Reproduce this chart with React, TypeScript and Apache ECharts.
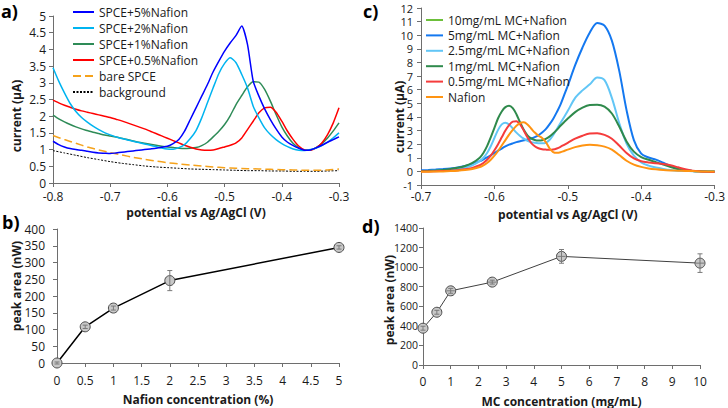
import React, { useEffect, useRef } from 'react';
import * as echarts from 'echarts';

// ---------- Panel a: Nafion loading on SPCE ----------
const potentialA = [
  -0.8, -0.79, -0.78, -0.77, -0.76, -0.75, -0.74, -0.73, -0.72, -0.71,
  -0.7, -0.69, -0.68, -0.67, -0.66, -0.65, -0.64, -0.63, -0.62, -0.61,
  -0.6, -0.59, -0.58, -0.57, -0.56, -0.55, -0.54, -0.53, -0.52, -0.51,
  -0.5, -0.49, -0.48, -0.47, -0.46, -0.45, -0.44, -0.43, -0.42, -0.41,
  -0.4, -0.39, -0.38, -0.37, -0.36, -0.35, -0.34, -0.33, -0.32, -0.31, -0.3,
];
const spce5Nafion = [
  1.25, 1.15, 1.08, 1.03, 1.0, 0.98, 0.95, 0.92, 0.9, 0.89,
  0.88, 0.9, 0.92, 0.94, 0.96, 0.98, 1.0, 1.02, 1.04, 1.07,
  1.1, 1.18, 1.3, 1.55, 1.9, 2.25, 2.6, 2.95, 3.33, 3.65,
  3.95, 4.2, 4.42, 4.7, 4.15, 3.05, 2.6, 2.22, 1.9, 1.62,
  1.38, 1.22, 1.12, 1.04, 0.98, 0.99, 1.05, 1.13, 1.22, 1.3, 1.38,
];
const spce2Nafion = [
  3.45, 3.05, 2.7, 2.38, 2.14, 1.96, 1.82, 1.7, 1.6, 1.51,
  1.44, 1.38, 1.33, 1.29, 1.25, 1.21, 1.17, 1.13, 1.09, 1.05,
  1.02, 1.01, 1.06, 1.15, 1.33, 1.57, 1.95, 2.4, 2.85, 3.28,
  3.58, 3.75, 3.6, 3.25, 2.85, 2.3, 1.95, 1.65, 1.45, 1.3,
  1.18, 1.09, 1.02, 0.98, 0.97, 1.0, 1.05, 1.12, 1.22, 1.35, 1.5,
];
const spce1Nafion = [
  2.03, 1.92, 1.83, 1.75, 1.68, 1.62, 1.57, 1.52, 1.48, 1.44,
  1.41, 1.38, 1.34, 1.3, 1.26, 1.22, 1.19, 1.16, 1.13, 1.1,
  1.08, 1.06, 1.04, 1.03, 1.04, 1.06, 1.12, 1.22, 1.38, 1.55,
  1.75, 2.02, 2.35, 2.62, 2.88, 3.03, 3.02, 2.8, 2.45, 2.05,
  1.68, 1.4, 1.18, 1.05, 0.98, 0.99, 1.06, 1.18, 1.35, 1.56, 1.8,
];
const spce05Nafion = [
  2.48, 2.4, 2.33, 2.27, 2.21, 2.16, 2.12, 2.08, 2.04, 2.0,
  1.96, 1.91, 1.86, 1.8, 1.74, 1.68, 1.62, 1.55, 1.48, 1.41,
  1.34, 1.27, 1.2, 1.13, 1.07, 1.02, 0.99, 0.98, 0.99, 1.03,
  1.08, 1.13, 1.2, 1.35, 1.6, 1.85, 2.1, 2.25, 2.27, 2.12,
  1.85, 1.55, 1.3, 1.1, 0.99, 0.98, 1.05, 1.2, 1.45, 1.8, 2.25,
];
const potentialA2 = [
  -0.8, -0.78, -0.76, -0.74, -0.72, -0.7, -0.68, -0.66, -0.64, -0.62,
  -0.6, -0.58, -0.56, -0.54, -0.52, -0.5, -0.48, -0.46, -0.44, -0.42,
  -0.4, -0.38, -0.36, -0.34, -0.32, -0.3,
];
const bareSpce = [
  1.42, 1.3, 1.19, 1.08, 0.99, 0.91, 0.84, 0.77, 0.71, 0.66,
  0.61, 0.57, 0.54, 0.51, 0.48, 0.46, 0.44, 0.43, 0.42, 0.41,
  0.4, 0.39, 0.38, 0.38, 0.39, 0.42,
];
const backgroundA = [
  0.97, 0.9, 0.83, 0.76, 0.7, 0.64, 0.59, 0.55, 0.51, 0.48,
  0.46, 0.44, 0.42, 0.41, 0.4, 0.39, 0.38, 0.37, 0.37, 0.36,
  0.36, 0.35, 0.35, 0.35, 0.36, 0.37,
];

// ---------- Panel c: MC loading ----------
const potentialC = [
  -0.7, -0.69, -0.68, -0.67, -0.66, -0.65, -0.64, -0.63, -0.62,
  -0.615, -0.61, -0.605, -0.6, -0.595, -0.59, -0.585, -0.58, -0.575, -0.57,
  -0.565, -0.56, -0.555, -0.55, -0.545, -0.54, -0.535, -0.53, -0.525, -0.52,
  -0.515, -0.51, -0.505, -0.5,
  -0.49, -0.48, -0.47, -0.46, -0.45, -0.44, -0.43, -0.42, -0.41, -0.4,
  -0.39, -0.38, -0.37, -0.36, -0.35, -0.34, -0.33, -0.32, -0.31, -0.3,
];
const mc10: number[] = [];
const mc5 = [
  0.08, 0.1, 0.13, 0.17, 0.22, 0.29, 0.4, 0.55, 0.75,
  0.88, 1.02, 1.18, 1.35, 1.52, 1.68, 1.83, 1.96, 2.06, 2.15,
  2.22, 2.28, 2.35, 2.42, 2.52, 2.65, 2.85, 3.1, 3.45, 3.85,
  4.35, 4.9, 5.6, 6.3,
  7.8, 9.1, 10.2, 10.9, 10.7, 9.6, 7.4, 4.5, 2.3, 1.3,
  1.02, 0.86, 0.64, 0.4, 0.18, 0.08, 0.03, 0.01, 0.0, 0.0,
];
const mc25 = [
  0.02, 0.03, 0.05, 0.08, 0.12, 0.18, 0.28, 0.45, 0.75,
  1.0, 1.35, 1.85, 2.45, 3.05, 3.45, 3.58, 3.45, 3.15, 2.85,
  2.6, 2.4, 2.25, 2.15, 2.1, 2.07, 2.06, 2.1, 2.3, 2.65,
  3.1, 3.55, 4.0, 4.45,
  5.4, 5.95, 6.4, 6.9, 6.7, 5.4, 3.55, 2.05, 1.15, 0.65,
  0.42, 0.28, 0.18, 0.1, 0.05, 0.03, 0.01, 0.0, 0.0, 0.0,
];
const mc1 = [
  0.02, 0.04, 0.07, 0.11, 0.17, 0.26, 0.4, 0.62, 1.0,
  1.35, 1.85, 2.5, 3.2, 3.9, 4.4, 4.72, 4.82, 4.65, 4.2,
  3.6, 3.05, 2.65, 2.42, 2.3, 2.26, 2.28, 2.38, 2.55, 2.78,
  3.05, 3.35, 3.62, 3.88,
  4.35, 4.68, 4.88, 4.9, 4.75, 4.25, 3.3, 2.2, 1.45, 1.05,
  0.85, 0.68, 0.5, 0.32, 0.17, 0.08, 0.03, 0.01, 0.0, 0.0,
];
const mc05 = [
  0.0, 0.0, 0.01, 0.03, 0.05, 0.09, 0.15, 0.26, 0.45,
  0.62, 0.85, 1.15, 1.55, 2.0, 2.5, 3.0, 3.4, 3.65, 3.68,
  3.45, 3.0, 2.5, 2.1, 1.85, 1.7, 1.63, 1.6, 1.58, 1.6,
  1.68, 1.8, 1.95, 2.1,
  2.4, 2.62, 2.78, 2.8, 2.68, 2.4, 1.9, 1.35, 0.95, 0.75,
  0.66, 0.6, 0.55, 0.45, 0.3, 0.15, 0.05, 0.0, -0.03, -0.05,
];
const nafionOnly = [
  -0.02, -0.02, -0.01, 0.0, 0.02, 0.05, 0.1, 0.18, 0.32,
  0.45, 0.62, 0.85, 1.15, 1.5, 1.9, 2.3, 2.7, 3.05, 3.35,
  3.55, 3.6, 3.45, 3.15, 2.85, 2.62, 2.45, 2.15, 1.7, 1.42,
  1.36, 1.4, 1.5, 1.6,
  1.78, 1.9, 1.95, 1.92, 1.82, 1.6, 1.2, 0.78, 0.5, 0.33,
  0.22, 0.15, 0.1, 0.07, 0.05, 0.03, 0.02, 0.0, 0.0, 0.0,
];

// ---------- Panel b: peak area vs Nafion ----------
const nafionConc = [0, 0.5, 1, 2, 5];
const nafionArea = [0, 108, 164, 246, 345];
const nafionErr = [3, 5, 6, 30, 5];

// ---------- Panel d: peak area vs MC ----------
const mcConc = [0, 0.5, 1, 2.5, 5, 10];
const mcArea = [376, 539, 758, 847, 1110, 1041];
const mcErr = [20, 20, 25, 20, 70, 95];
const mcXErr = [0, 0, 0.15, 0.15, 0.15, 0.15];

const FONT = 'Open Sans';
const TXT = '#1a1a1a';
const AX = '#6e6e6e';

const pairs = (xs: number[], ys: number[]) => ys.map((y, i) => [xs[i], y]);
const fmt = (v: number) => String(Number(v.toFixed(2)));

function valueAxis(grid: number, min: number, max: number, interval: number, label: any, extra: any = {}) {
  return {
    type: 'value',
    gridIndex: grid,
    min,
    max,
    interval,
    axisLine: { show: true, onZero: false, lineStyle: { color: AX, width: 1 } },
    axisTick: { show: true, inside: false, length: 4, lineStyle: { color: AX } },
    splitLine: { show: false },
    axisLabel: { fontSize: 12, lineHeight: 11, color: TXT, fontFamily: FONT, formatter: fmt, ...label },
    ...extra,
  };
}

const xName = (name: string, gap: number) => ({
  name,
  nameLocation: 'middle',
  nameGap: gap,
  nameTextStyle: { fontWeight: 'bold', fontSize: 12, color: TXT, fontFamily: FONT },
});

function errorRender(params: any, api: any) {
  const x = api.value(0);
  const y = api.value(1);
  const e = api.value(2);
  const h = api.value(3);
  const style = { stroke: '#7a7a7a', lineWidth: 1 };
  const top = api.coord([x, y + e]);
  const bot = api.coord([x, y - e]);
  const children: any[] = [
    { type: 'line', shape: { x1: top[0], y1: top[1], x2: bot[0], y2: bot[1] }, style },
    { type: 'line', shape: { x1: top[0] - 2.5, y1: top[1], x2: top[0] + 2.5, y2: top[1] }, style },
    { type: 'line', shape: { x1: bot[0] - 2.5, y1: bot[1], x2: bot[0] + 2.5, y2: bot[1] }, style },
  ];
  if (h > 0) {
    const l = api.coord([x - h, y]);
    const r = api.coord([x + h, y]);
    children.push({ type: 'line', shape: { x1: l[0], y1: l[1], x2: r[0], y2: r[1] }, style });
  }
  return { type: 'group', children };
}

const lineA = (name: string, xs: number[], ys: number[], color: string, extra: any = {}) => ({
  type: 'line',
  name,
  xAxisIndex: 0,
  yAxisIndex: 0,
  data: pairs(xs, ys),
  symbol: 'none',
  smooth: 0.2,
  lineStyle: { color, width: 1.5, ...(extra.lineStyle || {}) },
  itemStyle: { color },
});

const lineC = (name: string, ys: number[], color: string) => ({
  type: 'line',
  name,
  xAxisIndex: 1,
  yAxisIndex: 1,
  data: pairs(potentialC, ys),
  symbol: 'none',
  smooth: 0.3,
  lineStyle: { color, width: 2 },
  itemStyle: { color },
});

const yTitle = (text: string, x: number, y: number) => ({
  type: 'text',
  x,
  y,
  rotation: Math.PI / 2,
  style: {
    text,
    font: `bold 12px "${FONT}"`,
    fill: TXT,
    align: 'center',
    verticalAlign: 'middle',
    textAlign: 'center',
    textVerticalAlign: 'middle',
  },
});

const panelLabel = (text: string, x: number, y: number) => ({
  type: 'text',
  x,
  y,
  style: {
    text,
    font: `bold 18px "${FONT}"`,
    fill: '#000',
    align: 'left',
    verticalAlign: 'middle',
    textAlign: 'left',
    textVerticalAlign: 'middle',
  },
});

const legendBase = {
  orient: 'vertical',
  padding: 0,
  itemHeight: 10,
  itemStyle: { opacity: 0 },
  textStyle: { fontSize: 12, color: TXT, fontFamily: FONT, lineHeight: 12 },
};

const option: any = {
  animation: false,
  backgroundColor: '#ffffff',
  textStyle: { fontFamily: FONT },
  grid: [
    { left: 53, top: 16, width: 286, height: 167 },
    { left: 421, top: 8, width: 297, height: 177 },
    { left: 57, top: 229, width: 282, height: 134 },
    { left: 423, top: 228, width: 277, height: 137 },
  ],
  xAxis: [
    valueAxis(0, -0.8, -0.3, 0.1, { margin: 8, formatter: (v: number) => v.toFixed(1) }, xName('potential vs Ag/AgCl (V)', 23)),
    valueAxis(1, -0.7, -0.3, 0.1, { margin: 6, formatter: (v: number) => v.toFixed(1) }, xName('potential vs Ag/AgCl (V)', 23)),
    valueAxis(2, 0, 5, 0.5, { margin: 12 }, xName('Nafion concentration (%)', 30)),
    valueAxis(3, 0, 10, 1, { margin: 11 }, xName('MC concentration (mg/mL)', 30)),
  ],
  yAxis: [
    valueAxis(0, 0, 5, 0.5, { margin: 7, fontSize: 12, lineHeight: 10 }),
    valueAxis(1, -1, 12, 1, { margin: 8, fontSize: 11, lineHeight: 10 }),
    valueAxis(2, 0, 400, 50, { margin: 12 }),
    valueAxis(3, 0, 1400, 200, { margin: 5, fontSize: 10.5 }),
  ],
  legend: [
    {
      ...legendBase,
      data: ['SPCE+5%Nafion', 'SPCE+2%Nafion', 'SPCE+1%Nafion', 'SPCE+0.5%Nafion', 'bare SPCE', 'background'],
      left: 72,
      top: 6,
      itemWidth: 21,
      itemGap: 4,
    },
    {
      ...legendBase,
      data: ['10mg/mL MC+Nafion', '5mg/mL MC+Nafion', '2.5mg/mL MC+Nafion', '1mg/mL MC+Nafion', '0.5mg/mL MC+Nafion', 'Nafion'],
      left: 425,
      top: 14,
      itemWidth: 17,
      itemGap: 3.4,
    },
  ],
  graphic: [
    panelLabel('a)', 1, 11),
    panelLabel('b)', 2, 222),
    panelLabel('c)', 363, 11),
    panelLabel('d)', 362, 226),
    yTitle('current (µA)', 16, 116),
    yTitle('current (µA)', 399, 117),
    yTitle('peak area (nW)', 16, 286),
    yTitle('peak area (nW)', 389, 300),
  ],
  series: [
    lineA('background', potentialA2, backgroundA, '#000000', { lineStyle: { type: [2, 1.5], width: 1 } }),
    lineA('bare SPCE', potentialA2, bareSpce, '#f5a21b', { lineStyle: { type: [8, 4], width: 1.5 } }),
    lineA('SPCE+1%Nafion', potentialA, spce1Nafion, '#2e8b57'),
    lineA('SPCE+0.5%Nafion', potentialA, spce05Nafion, '#ff0000'),
    lineA('SPCE+2%Nafion', potentialA, spce2Nafion, '#00b4f0'),
    lineA('SPCE+5%Nafion', potentialA, spce5Nafion, '#0000ff'),

    lineC('10mg/mL MC+Nafion', mc10, '#6cbf3a'),
    lineC('5mg/mL MC+Nafion', mc5, '#1478f0'),
    lineC('2.5mg/mL MC+Nafion', mc25, '#62c6f6'),
    lineC('1mg/mL MC+Nafion', mc1, '#2f8a4c'),
    lineC('0.5mg/mL MC+Nafion', mc05, '#f53c3c'),
    lineC('Nafion', nafionOnly, '#ff9412'),

    {
      type: 'line',
      name: 'peak area vs Nafion',
      xAxisIndex: 2,
      yAxisIndex: 2,
      data: pairs(nafionConc, nafionArea),
      symbol: 'circle',
      symbolSize: 10,
      lineStyle: { color: '#000000', width: 1.5 },
      itemStyle: { color: '#c8c8c8', borderColor: '#4a4a4a', borderWidth: 1 },
      z: 3,
    },
    {
      type: 'custom',
      name: 'err b',
      xAxisIndex: 2,
      yAxisIndex: 2,
      data: nafionConc.map((x, i) => [x, nafionArea[i], nafionErr[i], 0]),
      renderItem: errorRender,
      encode: { x: 0, y: 1 },
      z: 4,
      clip: false,
    },
    {
      type: 'line',
      name: 'peak area vs MC',
      xAxisIndex: 3,
      yAxisIndex: 3,
      data: pairs(mcConc, mcArea),
      symbol: 'circle',
      symbolSize: 10,
      lineStyle: { color: '#404040', width: 1 },
      itemStyle: { color: '#c8c8c8', borderColor: '#4a4a4a', borderWidth: 1 },
      z: 3,
    },
    {
      type: 'custom',
      name: 'err d',
      xAxisIndex: 3,
      yAxisIndex: 3,
      data: mcConc.map((x, i) => [x, mcArea[i], mcErr[i], mcXErr[i]]),
      renderItem: errorRender,
      encode: { x: 0, y: 1 },
      z: 4,
      clip: false,
    },
  ],
};

export default function App() {
  const ref = useRef<HTMLDivElement>(null);
  useEffect(() => {
    if (!ref.current) return;
    const chart = echarts.init(ref.current, null, { renderer: 'svg' });
    chart.setOption(option);
    return () => chart.dispose();
  }, []);
  return (
    <div
      ref={ref}
      style={{ position: 'absolute', left: 0, top: 0, width: 728, height: 408, background: '#fff' }}
    />
  );
}
